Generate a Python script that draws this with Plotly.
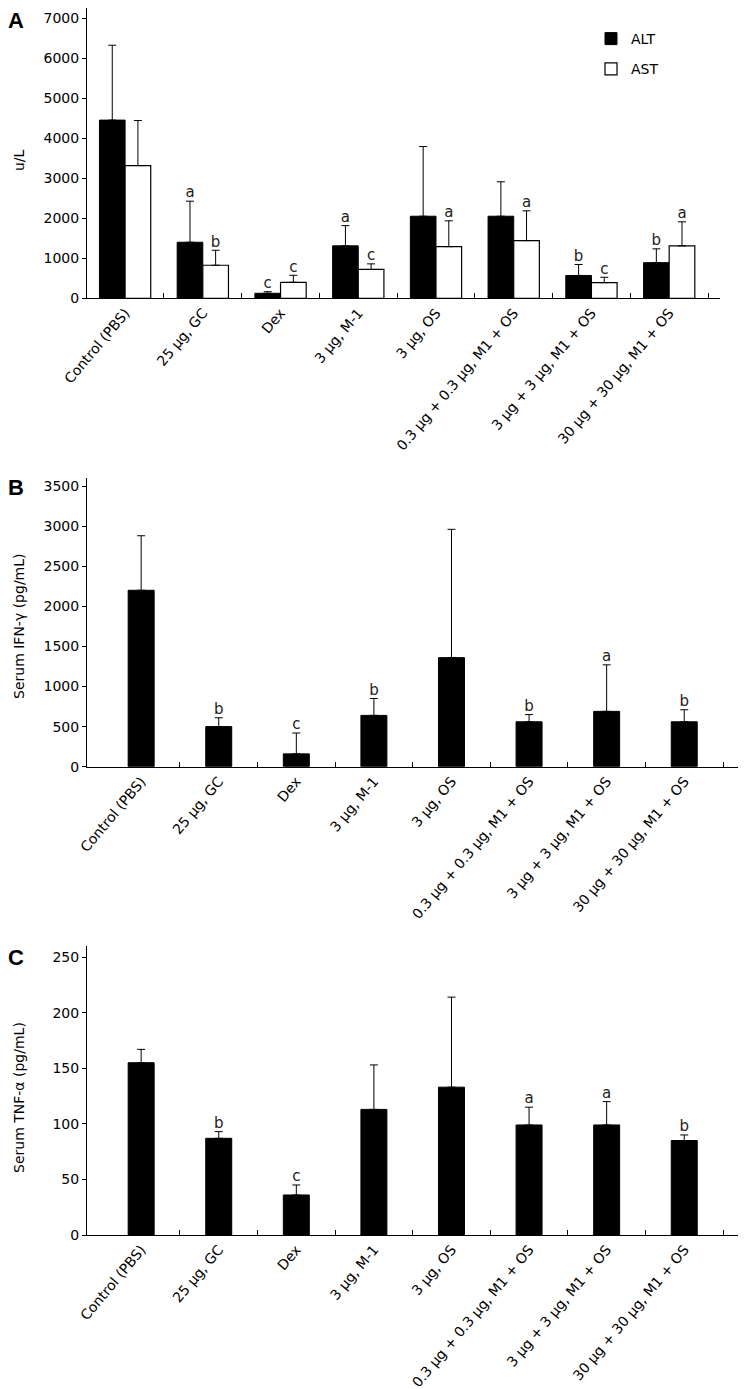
import plotly.graph_objects as go

# ---------------- data ----------------
groups = ["Control (PBS)", "25 µg, GC", "Dex", "3 µg, M-1", "3 µg, OS",
          "0.3 µg + 0.3 µg, M1 + OS", "3 µg + 3 µg, M1 + OS", "30 µg + 30 µg, M1 + OS"]

alt_mean = [4450, 1400, 125, 1310, 2050, 2050, 570, 890]
alt_sd = [1870, 1025, 40, 505, 1740, 860, 275, 345]
alt_sig = ["", "a", "c", "a", "", "", "b", "b"]

ast_mean = [3315, 825, 400, 720, 1290, 1440, 390, 1310]
ast_sd = [1125, 375, 175, 140, 645, 745, 135, 600]
ast_sig = ["", "b", "c", "c", "a", "a", "c", "a"]

ifn_mean = [2200, 500, 160, 640, 1360, 560, 690, 560]
ifn_sd = [680, 110, 260, 210, 1600, 90, 580, 150]
ifn_sig = ["", "b", "c", "b", "", "b", "a", "b"]

tnf_mean = [155, 87, 36, 113, 133, 99, 99, 85]
tnf_sd = [12, 6, 9, 40, 81, 16, 21, 5]
tnf_sig = ["", "b", "c", "", "", "a", "a", "b"]

# ---------------- layout constants ----------------
# the page body has an 8 px margin, so the figure is drawn 8 px smaller
W, H = 738, 1381
FONT = "DejaVu Sans"
idx = list(range(len(groups)))
bw_pair = 0.33
bw_single = 0.335


def py(px):
    return 1 - px / H


fig = go.Figure()


def err(sd):
    return dict(type="data", array=sd, arrayminus=[0] * len(sd), symmetric=False,
                color="black", thickness=1, width=4, visible=True)


def sig_trace(xs, means, sds, sig, xa, ya):
    return go.Scatter(x=xs, y=[m + s for m, s in zip(means, sds)], text=sig,
                      mode="text", textposition="top center",
                      textfont=dict(family=FONT, size=15, color="#222"),
                      xaxis=xa, yaxis=ya, showlegend=False, hoverinfo="skip")


# Panel A
fig.add_trace(go.Bar(x=idx, y=alt_mean, width=bw_pair, offset=-bw_pair, name="ALT",
                     marker=dict(color="black", line=dict(color="black", width=1)),
                     error_y=err(alt_sd), xaxis="x", yaxis="y", legendgroup="g1"))
fig.add_trace(go.Bar(x=idx, y=ast_mean, width=bw_pair, offset=0, name="AST",
                     marker=dict(color="white", line=dict(color="black", width=1.2)),
                     error_y=err(ast_sd), xaxis="x", yaxis="y", legendgroup="g2"))
fig.add_trace(sig_trace([i - bw_pair / 2 for i in idx], alt_mean, alt_sd, alt_sig, "x", "y"))
fig.add_trace(sig_trace([i + bw_pair / 2 for i in idx], ast_mean, ast_sd, ast_sig, "x", "y"))

# Panel B
fig.add_trace(go.Bar(x=idx, y=ifn_mean, width=bw_single, showlegend=False,
                     marker=dict(color="black", line=dict(color="black", width=1)),
                     error_y=err(ifn_sd), xaxis="x2", yaxis="y2"))
fig.add_trace(sig_trace(idx, ifn_mean, ifn_sd, ifn_sig, "x2", "y2"))

# Panel C
fig.add_trace(go.Bar(x=idx, y=tnf_mean, width=bw_single, showlegend=False,
                     marker=dict(color="black", line=dict(color="black", width=1)),
                     error_y=err(tnf_sd), xaxis="x3", yaxis="y3"))
fig.add_trace(sig_trace(idx, tnf_mean, tnf_sd, tnf_sig, "x3", "y3"))


def xaxis(domain, rng, anchor):
    return dict(domain=domain, range=rng, anchor=anchor, showline=True, linecolor="black",
                linewidth=1, showgrid=False, zeroline=False, automargin=False,
                tickmode="array", tickvals=idx, ticktext=groups, tickangle=-50,
                ticks="inside", ticklen=0,
                tickfont=dict(family=FONT, size=14, color="black"),
                minor=dict(tickmode="array", tickvals=[i + 0.5 for i in idx],
                           ticks="inside", ticklen=5, tickcolor="black", tickwidth=1))


def yaxis(domain, rng, dtick, anchor):
    return dict(domain=domain, range=rng, dtick=dtick, anchor=anchor, showline=True,
                linecolor="black", linewidth=1, showgrid=False, zeroline=False,
                automargin=False, ticks="outside", ticklen=4, tickcolor="black",
                tickfont=dict(family=FONT, size=14, color="black"))


fig.update_layout(
    width=W, height=H, margin=dict(l=0, r=0, t=0, b=0, autoexpand=False),
    plot_bgcolor="white", paper_bgcolor="white", barmode="overlay",
    xaxis=xaxis([79 / W, 712 / W], [-0.49, 7.654], "y"),
    yaxis=yaxis([py(290.3), py(0)], [0, 7250], 1000, "x"),
    xaxis2=xaxis([79 / W, 730 / W], [-0.698, 7.693], "y2"),
    yaxis2=yaxis([py(758.7), py(470)], [0, 3600], 500, "x2"),
    xaxis3=xaxis([79 / W, 730 / W], [-0.698, 7.693], "y3"),
    yaxis3=yaxis([py(1227), py(938)], [0, 260], 50, "x3"),
    legend=dict(x=583 / W, y=py(15), xanchor="left", yanchor="top",
                font=dict(family=FONT, size=14, color="black"),
                bgcolor="rgba(0,0,0,0)", tracegroupgap=9),
    showlegend=True,
)

# axis titles and panel letters
titles = [("u/L", py(152)), ("Serum IFN-γ (pg/mL)", py(618)), ("Serum TNF-α (pg/mL)", py(1090))]
for t, yy in titles:
    fig.add_annotation(text=t, x=11 / W, y=yy, xref="paper", yref="paper", textangle=-90,
                       xanchor="center", yanchor="middle",
                       showarrow=False, font=dict(family=FONT, size=14, color="black"))
for t, yy in [("A", py(13)), ("B", py(480)), ("C", py(949))]:
    fig.add_annotation(text="<b>%s</b>" % t, x=8 / W, y=yy, xref="paper", yref="paper",
                       xanchor="center", yanchor="middle",
                       showarrow=False, font=dict(family="Liberation Sans", size=22, color="black"))

fig.write_html("out.html")
